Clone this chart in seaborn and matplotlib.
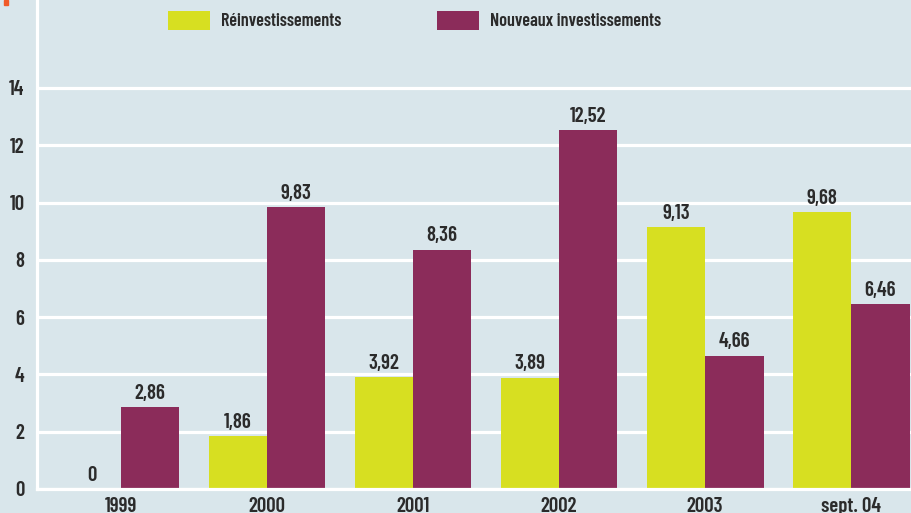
import matplotlib
matplotlib.use("Agg")
import matplotlib.pyplot as plt
import seaborn as sns
import pandas as pd
from matplotlib.patches import Rectangle

periods = ["1999", "2000", "2001", "2002", "2003", "sept. 04"]
reinvest = [0.0, 1.86, 3.92, 3.89, 9.13, 9.68]
nouveaux = [2.86, 9.83, 8.36, 12.52, 4.66, 6.46]
series_names = ["Réinvestissements", "Nouveaux investissements"]
yticks = [0, 2, 4, 6, 8, 10, 12, 14]

BG = "#d9e6eb"
YEL = "#d7df21"
MAR = "#8b2c5a"
TXT = "#2b2b2b"
FW = 600

sns.set_theme(style="white")
plt.rcParams["font.family"] = ["Barlow Condensed", "DejaVu Sans"]
plt.rcParams["font.weight"] = FW

df = pd.DataFrame({
    "period": periods * 2,
    "value": reinvest + nouveaux,
    "series": [series_names[0]] * len(periods) + [series_names[1]] * len(periods),
})

fig = plt.figure(figsize=(9.11, 5.13), dpi=100, facecolor=BG)
ax = fig.add_axes([37 / 911, 24 / 513, 1 - 37 / 911, 1 - 24 / 513])
ax.set_facecolor(BG)

sns.barplot(data=df, x="period", y="value", hue="series", order=periods,
            hue_order=series_names, palette=[YEL, MAR], width=0.8,
            saturation=1, ax=ax, errorbar=None, linewidth=0, edgecolor="none")

ax.set_axisbelow(True)
ax.set_xlim(-0.575, 5.41)
ax.set_ylim(0, 17.07)
ax.set_yticks(yticks)
ax.set_yticklabels([str(t) for t in yticks])
ax.yaxis.grid(True, color="white", linewidth=2.3)
ax.xaxis.grid(False)
for s in ["top", "right"]:
    ax.spines[s].set_visible(False)
for s in ["left", "bottom"]:
    ax.spines[s].set_color("white")
    ax.spines[s].set_linewidth(2.3)
ax.tick_params(axis="both", length=0, colors=TXT, labelsize=15)
ax.tick_params(axis="y", pad=9)
ax.tick_params(axis="x", pad=6)
for lbl in ax.get_xticklabels() + ax.get_yticklabels():
    lbl.set_fontweight(FW)
ax.set_xlabel("")
ax.set_ylabel("")

def fmt(v):
    if v == 0:
        return "0"
    return f"{v:.2f}".replace(".", ",")

for cont in ax.containers:
    ax.bar_label(cont, labels=[fmt(b.get_height()) for b in cont], padding=3,
                 fontsize=15, fontweight=FW, color=TXT)

handles, labels = ax.get_legend_handles_labels()
ax.legend(handles, labels, loc="upper left", bbox_to_anchor=(168 / 911, 1 - 11 / 513),
          bbox_transform=fig.transFigure, ncol=2, frameon=False,
          handlelength=2.33, handleheight=1.2, handletextpad=0.6,
          columnspacing=5.3, borderpad=0, borderaxespad=0,
          prop={"family": "Barlow Condensed", "weight": FW, "size": 13})
for t in ax.get_legend().get_texts():
    t.set_color(TXT)

fig.patches.append(Rectangle((4 / 911, 1 - 5 / 513), 4 / 911, 5 / 513,
                             transform=fig.transFigure, color="#f05a28", zorder=5))

fig.savefig("out.png", dpi=100, facecolor=BG)
